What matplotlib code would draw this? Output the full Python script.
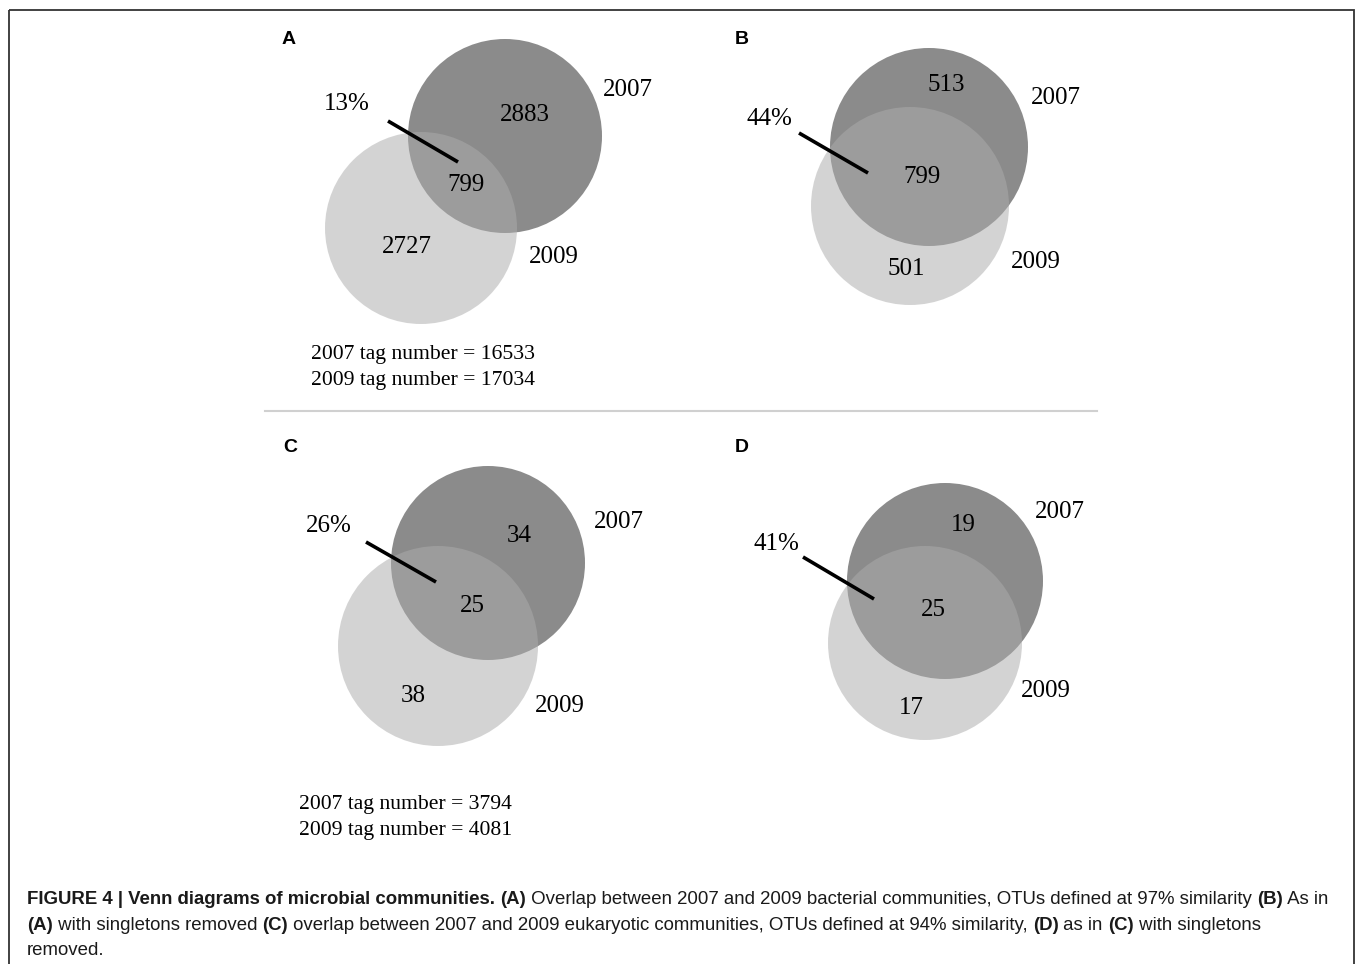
import matplotlib
matplotlib.use("Agg")
import matplotlib.pyplot as plt
from matplotlib.patches import Circle, Rectangle
from matplotlib import font_manager

# data
panels = ["A", "B", "C", "D"]
only_2007 = [2883, 513, 34, 19]
shared = [799, 799, 25, 25]
only_2009 = [2727, 501, 38, 17]
overlap_pct = ["13%", "44%", "26%", "41%"]
tags_2007 = [16533, None, 3794, None]
tags_2009 = [17034, None, 4081, None]

# layout (pixel coords, y down)
dark_c = [(505, 136), (929, 147), (488, 563), (945, 581)]
dark_r = [97, 99, 97, 98]
light_c = [(421, 228), (910, 206), (438, 646), (925, 643)]
light_r = [96, 99, 100, 97]
letter_xy = [(289, 39), (742, 39), (290, 446), (742, 446)]
pct_xy = [(347, 102), (769, 117), (329, 524), (776, 542)]
leader = [((388, 121), (458, 162)), ((799, 133), (868, 173)),
          ((366, 542), (436, 582)), ((803, 557), (874, 599))]
xy_2007 = [(525, 113), (946, 83), (519, 534), (963, 523)]
xy_shared = [(466, 183), (922, 175), (472, 604), (933, 608)]
xy_2009 = [(407, 245), (906, 267), (413, 694), (911, 706)]
lab2007_xy = [(628, 88), (1056, 96), (619, 520), (1060, 510)]
lab2009_xy = [(554, 255), (1036, 260), (560, 704), (1046, 689)]
tag_xy = [(311, 353), None, (299, 804), None]

W, H = 1357, 964
fig = plt.figure(figsize=(W / 100, H / 100), dpi=100)
ax = fig.add_axes([0, 0, 1, 1])
ax.set_xlim(0, W)
ax.set_ylim(H, 0)
ax.axis("off")

serif = "Liberation Serif"
names = {f.name for f in font_manager.fontManager.ttflist}
cap_font = "Liberation Sans Narrow" if "Liberation Sans Narrow" in names else "Liberation Sans"

# frame and separator
ax.add_patch(Rectangle((9, 9.5), 1345, 980, fill=False, ec="#333333", lw=1.3))
ax.plot([265, 1097], [411, 411], color="#d0d0d0", lw=1.5)


def num(xy, s, size=18):
    # digits have no descent, nudge down so they sit visually centred
    ax.text(xy[0], xy[1] + 2, s, fontsize=size, family=serif, ha="center", va="center")


for i in range(4):
    ax.add_patch(Circle(dark_c[i], dark_r[i], fc="#8b8b8b", ec="none"))
    ax.add_patch(Circle(light_c[i], light_r[i], fc="#acacac", ec="none", alpha=0.52))
    (x0, y0), (x1, y1) = leader[i]
    ax.plot([x0, x1], [y0, y1], color="black", lw=2.6, solid_capstyle="butt")
    ax.text(letter_xy[i][0], letter_xy[i][1] + 1, panels[i], fontsize=14, fontweight="bold",
            family="Liberation Sans", ha="center", va="center")
    num(pct_xy[i], overlap_pct[i])
    num(xy_2007[i], str(only_2007[i]))
    num(xy_shared[i], str(shared[i]))
    num(xy_2009[i], str(only_2009[i]))
    num(lab2007_xy[i], "2007")
    num(lab2009_xy[i], "2009")
    if tag_xy[i] is not None:
        tx, ty = tag_xy[i]
        ax.text(tx, ty + 1, "2007 tag number = %d" % tags_2007[i], fontsize=15.6,
                family=serif, ha="left", va="center")
        ax.text(tx, ty + 27, "2009 tag number = %d" % tags_2009[i], fontsize=15.6,
                family=serif, ha="left", va="center")

# caption with bold / regular runs
caption = [
    [("FIGURE 4 | Venn diagrams of microbial communities. ", True),
     ("(A)", True), (" Overlap between 2007 and 2009 bacterial communities, OTUs defined at 97% similarity ", False),
     ("(B)", True), (" As in", False)],
    [("(A)", True), (" with singletons removed ", False), ("(C)", True),
     (" overlap between 2007 and 2009 eukaryotic communities, OTUs defined at 94% similarity, ", False),
     ("(D)", True), (" as in ", False), ("(C)", True), (" with singletons", False)],
    [("removed.", False)],
]
cap_y = [899, 925, 950]
cap_x0, cap_x1 = 27, 1331

renderer = fig.canvas.get_renderer()


def draw_line(runs, y, size):
    x = cap_x0
    objs = []
    for s, b in runs:
        t = ax.text(x, y, s, fontsize=size, family=cap_font,
                    fontweight="bold" if b else "normal",
                    ha="left", va="baseline", color="#1a1a1a")
        w = t.get_window_extent(renderer).width
        x += w
        objs.append(t)
    return objs, x


# scale font so the first line spans the same width as in the figure
objs, xend = draw_line(caption[0], cap_y[0] + 5, 12)
for t in objs:
    t.remove()
size = 12 * (cap_x1 - cap_x0) / (xend - cap_x0)
for runs, y in zip(caption, cap_y):
    draw_line(runs, y + 5, size)

fig.savefig("out.png", dpi=100)
